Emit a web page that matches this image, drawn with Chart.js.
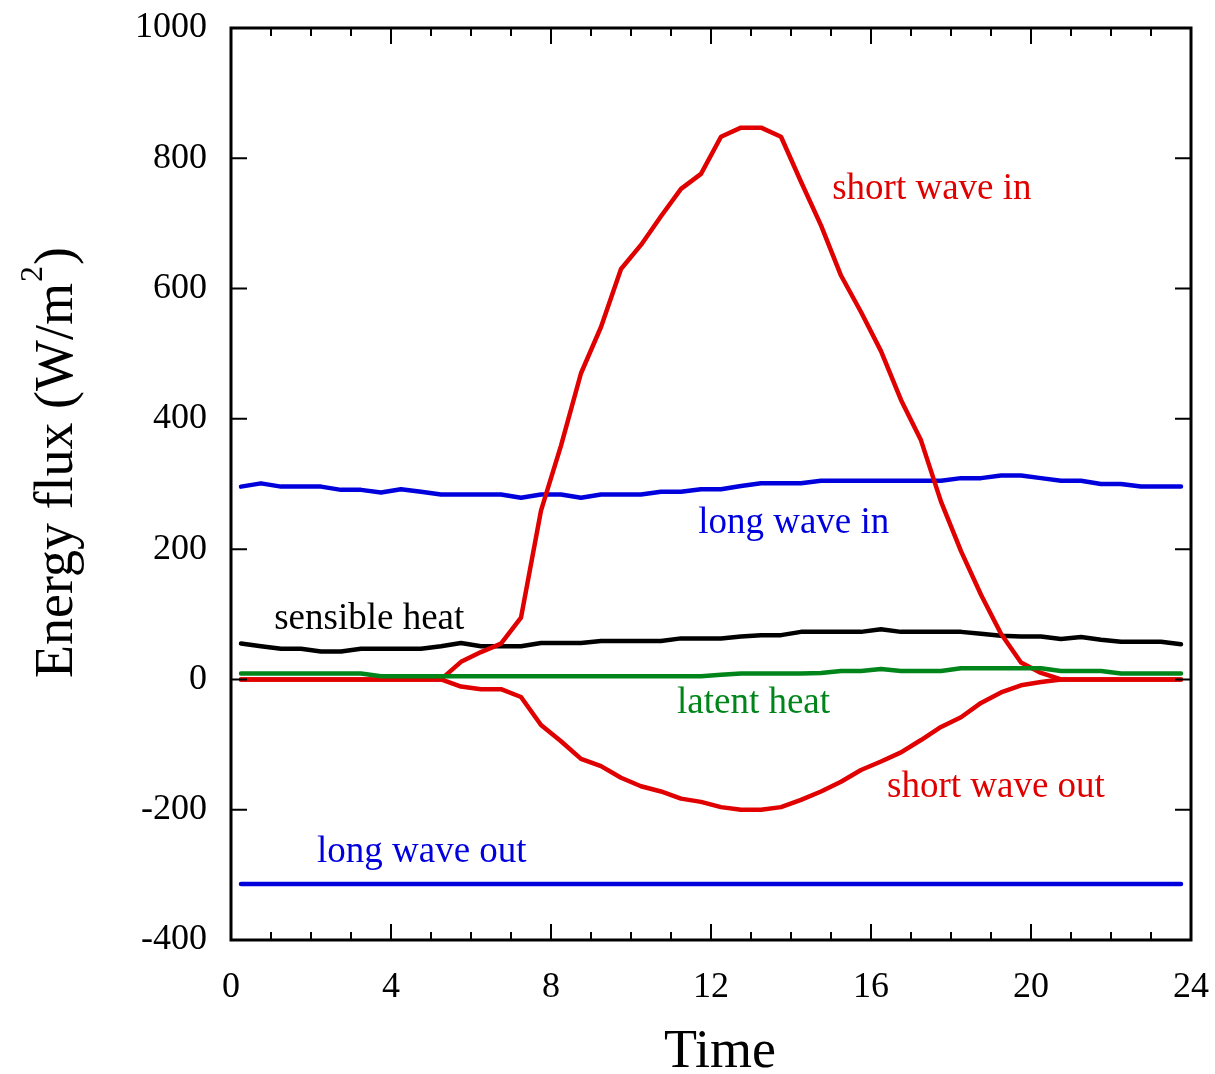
<!DOCTYPE html>
<html>
<head>
<meta charset="utf-8">
<script src="https://cdn.jsdelivr.net/npm/chart.js@4"></script>
<style>
  html, body { margin: 0; padding: 0; background: #fff; }
  #wrap { width: 1215px; height: 1074px; }
</style>
</head>
<body>
<div id="wrap"><canvas id="myChart" width="1215" height="1074"></canvas></div>
<script>
// half-hour averages, hour of day
let hours = [0.25, 0.75, 1.25, 1.75, 2.25, 2.75, 3.25, 3.75, 4.25, 4.75, 5.25, 5.75,
  6.25, 6.75, 7.25, 7.75, 8.25, 8.75, 9.25, 9.75, 10.25, 10.75, 11.25, 11.75,
  12.25, 12.75, 13.25, 13.75, 14.25, 14.75, 15.25, 15.75, 16.25, 16.75, 17.25, 17.75,
  18.25, 18.75, 19.25, 19.75, 20.25, 20.75, 21.25, 21.75, 22.25, 22.75, 23.25, 23.75];

let shortWaveIn = [0, 0, 0, 0, 0, 0, 0, 0, 0, 0, 0, 27,
  42, 55, 95, 259, 359, 470, 541, 630, 667, 711, 753, 776,
  833, 847, 847, 833, 764, 697, 620, 564, 504, 429, 367, 273,
  197, 130, 70, 26, 10, 0, 0, 0, 0, 0, 0, 0];

let shortWaveOut = [0, 0, 0, 0, 0, 0, 0, 0, 0, 0, 0, -11,
  -15, -15, -27, -70, -95, -122, -133, -151, -164, -172, -183, -188,
  -196, -200, -200, -196, -185, -172, -157, -139, -126, -112, -93, -73,
  -58, -36, -20, -9, -4, 0, 0, 0, 0, 0, 0, 0];

let longWaveIn = [296, 301, 296, 296, 296, 291, 291, 287, 292, 288, 284, 284,
  284, 284, 279, 284, 284, 279, 284, 284, 284, 288, 288, 292,
  292, 297, 301, 301, 301, 305, 305, 305, 305, 305, 305, 305,
  309, 309, 313, 313, 309, 305, 305, 300, 300, 296, 296, 296];

let longWaveOut = [-314, -314, -314, -314, -314, -314, -314, -314, -314, -314, -314, -314,
  -314, -314, -314, -314, -314, -314, -314, -314, -314, -314, -314, -314,
  -314, -314, -314, -314, -314, -314, -314, -314, -314, -314, -314, -314,
  -314, -314, -314, -314, -314, -314, -314, -314, -314, -314, -314, -314];

let sensibleHeat = [55, 51, 47, 47, 43, 43, 47, 47, 47, 47, 51, 56,
  51, 51, 51, 56, 56, 56, 59, 59, 59, 59, 63, 63,
  63, 66, 68, 68, 73, 73, 73, 73, 77, 73, 73, 73,
  73, 70, 67, 66, 66, 62, 65, 61, 58, 58, 58, 54];

let latentHeat = [9, 9, 9, 9, 9, 9, 9, 5, 5, 5, 5, 5,
  5, 5, 5, 5, 5, 5, 5, 5, 5, 5, 5, 5,
  7, 9, 9, 9, 9, 10, 13, 13, 16, 13, 13, 13,
  17, 17, 17, 17, 17, 13, 13, 13, 9, 9, 9, 9];

let xTicks = [0, 4, 8, 12, 16, 20, 24];
let yTicks = [-400, -200, 0, 200, 400, 600, 800, 1000];

const RED = '#e00000';
const BLUE = '#0000dd';
const GREEN = '#00851a';
const BLACK = '#000000';
const SERIF = "'Liberation Serif', 'Times New Roman', serif";

// curve labels: text, colour, left edge (hour), baseline (W/m2)
let curveLabels = [
  ['short wave in', RED, 15.03, 737],
  ['long wave in', BLUE, 11.68, 225],
  ['sensible heat', BLACK, 1.08, 77],
  ['latent heat', GREEN, 11.15, -52],
  ['short wave out', RED, 16.4, -180],
  ['long wave out', BLUE, 2.15, -280]
];

function series(vals) {
  return vals.map((v, i) => ({x: hours[i], y: v}));
}

function line(label, vals, color) {
  return {
    label: label,
    data: series(vals),
    borderColor: color,
    backgroundColor: color,
    borderWidth: 4.5,
    pointRadius: 0,
    tension: 0,
    borderCapStyle: 'round',
    borderJoinStyle: 'round',
    fill: false
  };
}

const frameAndTicks = {
  id: 'frameAndTicks',
  afterDatasetsDraw(chart) {
    const {ctx, chartArea: a, scales: {x, y}} = chart;
    ctx.save();
    ctx.strokeStyle = '#000';
    ctx.lineCap = 'butt';
    ctx.lineWidth = 2;
    ctx.beginPath();
    // x minor and major ticks, bottom and top, pointing in
    for (let h = 0; h <= 24; h++) {
      const px = x.getPixelForValue(h);
      const len = xTicks.includes(h) ? 16 : 8;
      ctx.moveTo(px, a.bottom);
      ctx.lineTo(px, a.bottom - len);
      ctx.moveTo(px, a.top);
      ctx.lineTo(px, a.top + len);
    }
    yTicks.forEach(v => {
      const py = y.getPixelForValue(v);
      ctx.moveTo(a.left, py);
      ctx.lineTo(a.left + 16, py);
      ctx.moveTo(a.right, py);
      ctx.lineTo(a.right - 16, py);
    });
    ctx.stroke();
    ctx.lineWidth = 3;
    ctx.strokeRect(a.left, a.top, a.right - a.left, a.bottom - a.top);

    // curve labels
    ctx.font = '37px ' + SERIF;
    ctx.textAlign = 'left';
    ctx.textBaseline = 'alphabetic';
    curveLabels.forEach(([t, c, hx, vy]) => {
      ctx.fillStyle = c;
      ctx.fillText(t, x.getPixelForValue(hx), y.getPixelForValue(vy));
    });

    // axis titles
    ctx.fillStyle = '#000';
    ctx.textAlign = 'center';
    ctx.font = '54px ' + SERIF;
    ctx.fillText('Time', 720, 1067);

    ctx.save();
    ctx.translate(72, 678);
    ctx.rotate(-Math.PI / 2);
    ctx.textAlign = 'left';
    const main = 'Energy flux (W/m';
    ctx.font = '54px ' + SERIF;
    ctx.fillText(main, 0, 0);
    let w = ctx.measureText(main).width;
    ctx.font = '32px ' + SERIF;
    ctx.fillText('2', w + 1, -30);
    w += ctx.measureText('2').width + 2;
    ctx.font = '54px ' + SERIF;
    ctx.fillText(')', w, 0);
    ctx.restore();

    ctx.restore();
  }
};

let ctx = document.getElementById('myChart');

let myChart = new Chart(ctx, {
  type: 'line',
  data: {
    datasets: [
      line('latent heat', latentHeat, GREEN),
      line('short wave in', shortWaveIn, RED),
      line('short wave out', shortWaveOut, RED),
      line('sensible heat', sensibleHeat, BLACK),
      line('long wave in', longWaveIn, BLUE),
      line('long wave out', longWaveOut, BLUE)
    ]
  },
  options: {
    responsive: false,
    animation: false,
    layout: {padding: {top: 28, right: 24, left: 0, bottom: 0}},
    plugins: {
      legend: {display: false},
      tooltip: {enabled: false}
    },
    scales: {
      x: {
        type: 'linear',
        min: 0,
        max: 24,
        grid: {display: false, drawTicks: false},
        border: {display: false},
        afterBuildTicks: s => { s.ticks = xTicks.map(v => ({value: v})); },
        afterFit: s => { s.height = 134; s.paddingLeft = 0; s.paddingRight = 0; },
        ticks: {
          color: '#000',
          padding: 26,
          maxRotation: 0,
          font: {family: SERIF, size: 36},
          callback: v => String(v)
        }
      },
      y: {
        min: -400,
        max: 1000,
        grid: {display: false, drawTicks: false},
        border: {display: false},
        afterBuildTicks: s => { s.ticks = yTicks.map(v => ({value: v})); },
        afterFit: s => { s.width = 231; s.paddingTop = 0; s.paddingBottom = 0; },
        ticks: {
          color: '#000',
          padding: 24,
          font: {family: SERIF, size: 36},
          callback: v => String(v)
        }
      }
    }
  },
  plugins: [frameAndTicks]
});
</script>
</body>
</html>
